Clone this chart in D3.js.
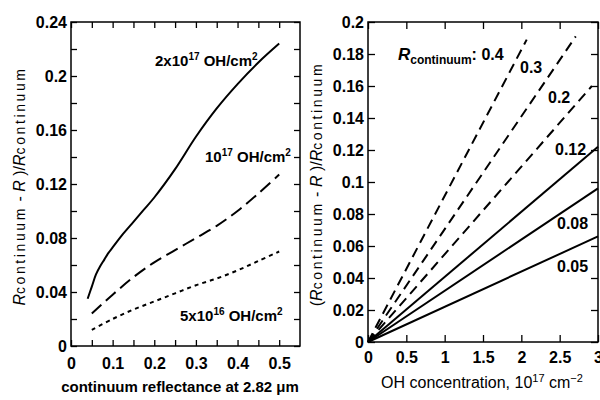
<!DOCTYPE html>
<html>
<head>
<meta charset="utf-8">
<script src="https://cdn.jsdelivr.net/npm/d3@7"></script>
<style>
  body { margin: 0; background: #fff; }
  svg { display: block; font-family: 'Liberation Sans', Arial, sans-serif; }
  .tick line { stroke: #000; stroke-width: 1.3; }
  .tick text { font-size: 16px; font-weight: bold; fill: #000; }
  .domain { display: none; }
</style>
</head>
<body>
<svg id="chart" width="600" height="400"></svg>
<script>
// left panel: residual depth vs continuum reflectance
const refl2e17 = [0.04, 0.05, 0.06, 0.07, 0.08, 0.09, 0.1, 0.125, 0.15, 0.175, 0.2, 0.25, 0.3, 0.35, 0.4, 0.45, 0.5];
const depth2e17 = [0.035, 0.044, 0.053, 0.059, 0.064, 0.069, 0.073, 0.083, 0.092, 0.101, 0.110, 0.131, 0.155, 0.176, 0.194, 0.210, 0.224];
const refl1e17 = [0.05, 0.1, 0.15, 0.2, 0.25, 0.3, 0.35, 0.4, 0.45, 0.5];
const depth1e17 = [0.024, 0.038, 0.051, 0.062, 0.071, 0.080, 0.089, 0.100, 0.113, 0.127];
const refl5e16 = [0.05, 0.1, 0.15, 0.2, 0.25, 0.3, 0.35, 0.4, 0.45, 0.5];
const depth5e16 = [0.012, 0.020, 0.027, 0.033, 0.039, 0.045, 0.050, 0.056, 0.063, 0.070];

const leftXTicks = [0, 0.05, 0.1, 0.15, 0.2, 0.25, 0.3, 0.35, 0.4, 0.45, 0.5];
const leftXLabels = [0, 0.1, 0.2, 0.3, 0.4, 0.5];
const leftYTicks = [0, 0.02, 0.04, 0.06, 0.08, 0.1, 0.12, 0.14, 0.16, 0.18, 0.2, 0.22, 0.24];
const leftYLabels = [0, 0.04, 0.08, 0.12, 0.16, 0.2, 0.24];

// right panel: depth vs OH concentration for several continuum levels
const rContinuum = ["0.4", "0.3", "0.2", "0.12", "0.08", "0.05"];
const ohEnd = [2.07, 2.71, 2.92, 3.0, 3.0, 3.0];
const depthEnd = [0.189, 0.191, 0.160, 0.122, 0.096, 0.066];
const rightXTicks = [0, 0.5, 1, 1.5, 2, 2.5, 3];
const rightYTicks = [0, 0.02, 0.04, 0.06, 0.08, 0.1, 0.12, 0.14, 0.16, 0.18, 0.2];

const svg = d3.select('#chart');
const fmt = v => String(+v.toFixed(2));

function frame(g, x, y, xTicks, xLabels, yTicks, yLabels, tick, xPad) {
    const [x0, x1] = x.range();
    const [y0, y1] = y.range();
    const lab = (arr) => v => arr.some(a => Math.abs(a - v) < 1e-9) ? fmt(v) : '';
    g.append('g')
        .attr('transform', `translate(0,${y0})`)
        .call(d3.axisBottom(x).tickValues(xTicks).tickSize(-tick).tickPadding(xPad).tickFormat(lab(xLabels)));
    g.append('g')
        .attr('transform', `translate(0,${y1})`)
        .call(d3.axisTop(x).tickValues(xTicks).tickSize(-tick).tickFormat(''));
    g.append('g')
        .attr('transform', `translate(${x0},0)`)
        .call(d3.axisLeft(y).tickValues(yTicks).tickSize(-tick).tickPadding(4).tickFormat(lab(yLabels)));
    g.append('g')
        .attr('transform', `translate(${x1},0)`)
        .call(d3.axisRight(y).tickValues(yTicks).tickSize(-tick).tickFormat(''));
    g.append('rect')
        .attr('x', x0).attr('y', y1)
        .attr('width', x1 - x0).attr('height', y0 - y1)
        .attr('fill', 'none').attr('stroke', '#000').attr('stroke-width', 1.5);
}

function ohLabel(g, x, y, lead, leadSup) {
    const t = g.append('text').attr('x', x).attr('y', y)
        .attr('font-size', 15).attr('font-weight', 'bold');
    t.append('tspan').text(lead);
    t.append('tspan').attr('font-size', 10).attr('dy', -6).text(leadSup);
    t.append('tspan').attr('dy', 6).text(' OH/cm');
    t.append('tspan').attr('font-size', 10).attr('dy', -6).text('2');
}

function depthTitle(g, cx, cy, paren) {
    const t = g.append('text')
        .attr('transform', `translate(${cx},${cy}) rotate(-90)`)
        .attr('text-anchor', 'middle')
        .attr('font-size', 16);
    const sub = () => t.append('tspan').attr('font-size', 14).attr('letter-spacing', 2.6).text('continuum');
    if (paren) t.append('tspan').text('(');
    t.append('tspan').attr('font-style', 'italic').text('R');
    sub();
    t.append('tspan').text(' - ');
    t.append('tspan').attr('font-style', 'italic').text('R');
    t.append('tspan').text(' )/');
    t.append('tspan').attr('font-style', 'italic').text('R');
    sub();
}

// ---------- left panel ----------
const xL = d3.scaleLinear().domain([0, 0.55]).range([71, 300]);
const yL = d3.scaleLinear().domain([0, 0.24]).range([346, 22]);
const left = svg.append('g');
frame(left, xL, yL, leftXTicks, leftXLabels, leftYTicks, leftYLabels, 6, 12);

const lineL = d3.line().x(d => xL(d[0])).y(d => yL(d[1])).curve(d3.curveCatmullRom.alpha(0.5));
const leftSeries = [
    { xs: refl2e17, ys: depth2e17, dash: null },
    { xs: refl1e17, ys: depth1e17, dash: '13,6' },
    { xs: refl5e16, ys: depth5e16, dash: '4,4' }
];
left.selectAll('.curve')
    .data(leftSeries)
    .enter()
    .append('path')
    .attr('class', 'curve')
    .attr('d', s => lineL(s.xs.map((v, i) => [v, s.ys[i]])))
    .attr('fill', 'none')
    .attr('stroke', '#000')
    .attr('stroke-width', 2)
    .attr('stroke-dasharray', s => s.dash);

ohLabel(left, 155, 66, '2x10', '17');
ohLabel(left, 205, 162, '10', '17');
ohLabel(left, 180, 321, '5x10', '16');

depthTitle(left, 25, 186, false);
left.append('text')
    .attr('x', 180).attr('y', 392)
    .attr('text-anchor', 'middle')
    .attr('font-size', 15).attr('font-weight', 'bold')
    .text('continuum reflectance at 2.82 \u03bcm');

// ---------- right panel ----------
const xR = d3.scaleLinear().domain([0, 3]).range([368, 598]);
const yR = d3.scaleLinear().domain([0, 0.2]).range([342, 22]);
const right = svg.append('g');
frame(right, xR, yR, rightXTicks, rightXTicks, rightYTicks, rightYTicks, 7, 10);

const lines = rContinuum.map((r, i) => ({ r, x: ohEnd[i], y: depthEnd[i], dash: +r >= 0.2 ? '10,6' : null }));
right.selectAll('.ohline')
    .data(lines)
    .enter()
    .append('line')
    .attr('class', 'ohline')
    .attr('x1', xR(0)).attr('y1', yR(0))
    .attr('x2', d => xR(d.x)).attr('y2', d => yR(d.y))
    .attr('stroke', '#000')
    .attr('stroke-width', 2)
    .attr('stroke-dasharray', d => d.dash);

// curve labels
const labelPos = [[0, 0], [520, 73], [548, 103], [555, 155], [557, 229], [557, 272]];
const rt = right.append('text').attr('x', 398).attr('y', 60).attr('font-weight', 'bold');
rt.append('tspan').attr('font-size', 17).attr('font-style', 'italic').text('R');
rt.append('tspan').attr('font-size', 12).attr('dy', 4).text('continuum');
rt.append('tspan').attr('font-size', 16).attr('dy', -4).text(': ' + rContinuum[0]);
right.selectAll('.rlab')
    .data(lines.slice(1))
    .enter()
    .append('text')
    .attr('class', 'rlab')
    .attr('x', (d, i) => labelPos[i + 1][0])
    .attr('y', (d, i) => labelPos[i + 1][1])
    .attr('font-size', 16).attr('font-weight', 'bold')
    .text(d => d.r);

depthTitle(right, 322, 184, true);
const xt = right.append('text')
    .attr('x', 482).attr('y', 388)
    .attr('text-anchor', 'middle')
    .attr('font-size', 16);
xt.append('tspan').text('OH concentration, 10');
xt.append('tspan').attr('font-size', 11).attr('dy', -6).text('17');
xt.append('tspan').attr('dy', 6).text(' cm');
xt.append('tspan').attr('font-size', 11).attr('dy', -6).text('\u22122');
</script>
</body>
</html>
